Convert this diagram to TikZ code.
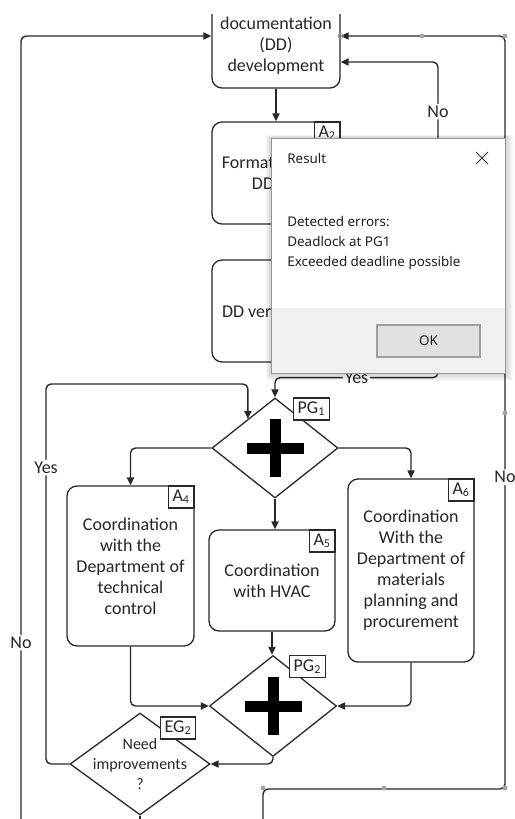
\documentclass[tikz,border=0pt]{standalone}
\usepackage{fontspec}
\setmainfont{Carlito}
\newfontfamily\dlgfont{Noto Sans}
\usetikzlibrary{arrows.meta,shapes.geometric,calc}
\definecolor{bpline}{RGB}{40,40,40}
\definecolor{bphandle}{RGB}{165,165,165}
\definecolor{dlgfoot}{RGB}{240,240,240}
\definecolor{dlgbtn}{RGB}{225,225,225}
\definecolor{dlgedge}{RGB}{150,150,150}
\newcommand{\gateplus}[1]{%
  \fill[black] ([shift={(-5.5,-29)}]#1.center) rectangle ([shift={(5.5,29)}]#1.center);
  \fill[black] ([shift={(-28.5,-5.5)}]#1.center) rectangle ([shift={(28.5,5.5)}]#1.center);}

\begin{document}
\begin{tikzpicture}[x=0.5pt, y=-0.5pt,
  actbox/.style={draw=bpline, line width=0.65pt, rounded corners=5pt, align=center,
    inner sep=0pt, text=black!85, font=\fontsize{9}{10.5}\selectfont},
  gate/.style={draw=bpline, line width=0.65pt, diamond, inner sep=0pt},
  tagbox/.style={draw=bpline, line width=0.6pt, fill=white, text=black!85,
    inner xsep=2pt, inner ysep=0pt, minimum height=11pt, font=\fontsize{9}{10}\selectfont},
  flow/.style={draw=bpline, line width=0.7pt, rounded corners=2.5pt,
    -{Triangle[length=4pt,width=3.6pt]}},
  lbl/.style={fill=white, inner sep=1pt, text=black!85, font=\fontsize{9}{10}\selectfont},
  dlgtext/.style={inner sep=0pt, text=black!88, font=\dlgfont\fontsize{6.7}{10}\selectfont}]

\useasboundingbox (0,0) rectangle (514,819);
\clip (0,0) rectangle (514,819);

% Activities
\begin{scope}
  \clip (0,14) rectangle (514,819);
  \node[actbox, minimum width=64pt, minimum height=42pt] (dd) at (276,46) {documentation\\(DD)\\development};
\end{scope}
\node[actbox, minimum width=64pt, minimum height=51pt] (a3) at (276,173) {Formatting the\\DD set};
\node[actbox, minimum width=64pt, minimum height=51pt] (av) at (276,311) {DD verification};
\node[actbox, minimum width=63.5pt, minimum height=80pt] (a4) at (130.5,566) {Coordination\\with the\\Department of\\technical\\control};
\node[actbox, minimum width=63pt, minimum height=50.5pt] (a5) at (272,580.5) {Coordination\\with HVAC};
\node[actbox, minimum width=63pt, minimum height=91.5pt] (a6) at (411,570.5) {Coordination\\With the\\Department of\\materials\\planning and\\procurement};

\node[tagbox, anchor=north east] (a3tag) at (a3.north east) {A\textsubscript{2}};
\node[tagbox, anchor=north east] (avtag) at (av.north east) {A\textsubscript{3}};
\node[tagbox, anchor=north east] (a4tag) at (a4.north east) {A\textsubscript{4}};
\node[tagbox, anchor=north east] (a5tag) at (a5.north east) {A\textsubscript{5}};
\node[tagbox, anchor=north east] (a6tag) at (a6.north east) {A\textsubscript{6}};

% Gateways
\node[gate, minimum width=60pt, minimum height=50pt] (eg1) at (438,311) {};
\node[gate, minimum width=63pt, minimum height=50pt] (pg1) at (275,448) {};
\node[gate, minimum width=63.5pt, minimum height=50.5pt] (pg2) at (273,706) {};
\node[gate, minimum width=70pt, minimum height=51pt] (eg2) at (140,764) {};
\node[align=center, inner sep=0pt, text=black!85, font=\fontsize{8}{10}\selectfont] (eg2txt) at (eg2) {Need\\improvements\\?};
\gateplus{pg1}
\gateplus{pg2}

\node[tagbox, anchor=north west] (pg1tag) at ([xshift=9pt]pg1.north) {PG\textsubscript{1}};
\node[tagbox, anchor=north west] (pg2tag) at ([xshift=8pt]pg2.north) {PG\textsubscript{2}};
\node[tagbox, anchor=north west] (eg2tag) at ([shift={(10pt,-2pt)}]eg2.north) {EG\textsubscript{2}};

% Connecting arrows
\coordinate (nodown) at (21,830);
\coordinate (noup) at (263,830);
\coordinate (egout) at (140,830);

\draw[flow] (dd.south) -- (a3.north);
\draw[flow] (a3.south) -- (av.north);
\draw[flow] (av.east) -- (eg1.west);
\draw[flow] (eg1.north) |- ([yshift=-8pt]dd.east) node[lbl, pos=0.375] {No};
\draw[flow] (eg1.south) -- ++(0,16) -| (pg1.north) node[lbl, pos=0.25] {Yes};
\draw[flow] (pg1.west) -| (a4.north);
\draw[flow] (pg1.south) -- (pg1.south |- a5.north);
\draw[flow] (pg1.east) -| (a6.north);
\draw[flow] (a4.south) |- (pg2.west);
\draw[flow] (a5.south) -- (a5.south |- pg2.north);
\draw[flow] (a6.south) |- (pg2.east);
\draw[flow] (pg2.south) |- (eg2.east);
\draw[flow] (eg2.west) -| (46,384) node[lbl, pos=0.89] {Yes} -| (pg1.133);
\draw[draw=bpline, line width=0.7pt] (eg2.south) -- (egout);
\draw[flow] (nodown) |- ([yshift=5pt]dd.west) node[lbl, pos=0.118] {No};
\draw[flow] (noup) |- (505,789) |- ([yshift=5pt]dd.east) node[lbl, pos=0.207] {No};

% Handles
\foreach \p in {(422,36),(505,36),(505,413),(263,788),(384,788),(505,788)}
  \fill[bphandle] \p circle[radius=2.5];
\draw[bphandle, line width=0.5pt] ([yshift=5pt]dd.east) circle[radius=2.5];

% Result message box
\foreach \s in {1,...,8}
  \fill[black, opacity=0.025] (271-0.6*\s,138-0.4*\s) rectangle (505+\s,373+\s);
\fill[white] (271,138) rectangle (505,373);
\fill[dlgfoot] (271,308) rectangle (505,373);
\draw[dlgedge, line width=0.4pt] (271,138) rectangle (505,373);
\node[dlgtext, anchor=west] (dlgtitle) at (287,158) {Result};
\draw[black!80, line width=0.5pt] (476,152) -- (488,164) (476,164) -- (488,152);
\node[dlgtext, anchor=west, align=left] (dlgmsg) at (287,243) {Detected errors:\\Deadlock at PG1\\Exceeded deadline possible};
\node[dlgtext, draw=gray!75, fill=dlgbtn, line width=1pt, minimum width=51.5pt, minimum height=16pt] (okbtn) at (428.5,341) {OK};

\end{tikzpicture}
\end{document}
